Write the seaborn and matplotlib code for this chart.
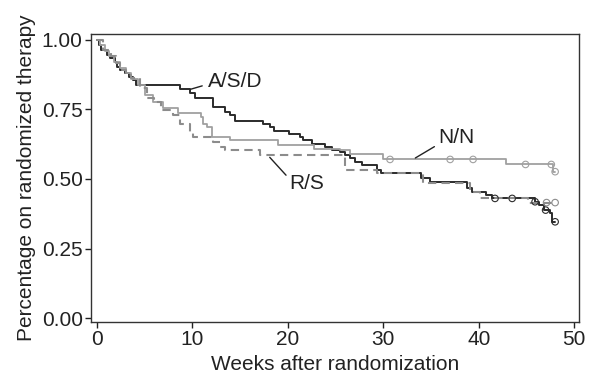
import numpy as np
import pandas as pd
import matplotlib
matplotlib.use("Agg")
import matplotlib.pyplot as plt
import seaborn as sns

# Kaplan-Meier step curves (weeks, proportion)
asd_weeks = [0, 0.2, 0.45, 1.0, 1.35, 1.85, 2.1, 2.4, 2.9, 3.4, 3.8, 4.1, 8.7, 9.7,
             10.3, 12.2, 13.4, 13.9, 14.5, 17.4, 18.1, 18.5, 20.1, 21.3, 21.6, 22.5,
             23.9, 24.6, 25.5, 26.0, 26.5, 27.0, 27.8, 29.3, 29.8, 33.9, 34.9, 38.8,
             39.3, 40.8, 41.4, 45.9, 46.3, 46.8, 47.5, 47.7, 48.0]
asd_surv = [1.0, 0.981, 0.963, 0.945, 0.933, 0.921, 0.903, 0.891, 0.879, 0.867, 0.855,
            0.838, 0.822, 0.81, 0.79, 0.76, 0.741, 0.729, 0.709, 0.699, 0.687, 0.673,
            0.663, 0.651, 0.639, 0.627, 0.615, 0.603, 0.597, 0.585, 0.574, 0.561, 0.55,
            0.532, 0.52, 0.502, 0.49, 0.466, 0.454, 0.442, 0.43, 0.418, 0.406, 0.388,
            0.376, 0.346, 0.346]
asd_cens = [41.7, 43.5, 45.9, 47.0, 48.0]

nn_weeks = [0, 0.3, 0.8, 1.3, 1.8, 2.4, 3.0, 3.6, 4.3, 5.0, 5.9, 6.9, 8.5, 10.9, 11.1,
            11.5, 12.0, 13.9, 19.0, 22.7, 25.5, 26.5, 30.0, 42.9, 47.8, 48.0]
nn_surv = [1.0, 0.98, 0.96, 0.94, 0.92, 0.9, 0.88, 0.86, 0.837, 0.80, 0.777, 0.753,
           0.735, 0.723, 0.699, 0.687, 0.652, 0.638, 0.621, 0.609, 0.603, 0.588, 0.570,
           0.552, 0.526, 0.526]
nn_cens = [30.7, 37.0, 39.4, 44.9, 47.6, 48.0]

rs_weeks = [0, 0.6, 1.5, 2.0, 2.4, 3.0, 3.6, 4.5, 5.2, 6.0, 6.7, 8.0, 8.7, 9.7, 10.1,
            12.2, 12.9, 13.4, 17.1, 26.0, 29.3, 34.2, 39.1, 40.1, 45.2, 48.0]
rs_surv = [1.0, 0.963, 0.94, 0.915, 0.891, 0.875, 0.861, 0.825, 0.789, 0.777, 0.747,
           0.729, 0.699, 0.669, 0.651, 0.634, 0.615, 0.603, 0.585, 0.532, 0.52, 0.484,
           0.454, 0.43, 0.415, 0.415]
rs_cens = [47.1, 48.0]

groups = ["A/S/D", "N/N", "R/S"]
colors = {"A/S/D": "#2b2b2b", "N/N": "#a0a0a0", "R/S": "#8c8c8c"}
styles = {"A/S/D": "-", "N/N": "-", "R/S": (0, (4, 2.5))}
widths = {"A/S/D": 1.4, "N/N": 1.3, "R/S": 1.5}

# label text position and leader-line end (weeks, proportion)
label_xy = {"A/S/D": (14.5, 0.851), "N/N": (37.7, 0.650), "R/S": (22.0, 0.485)}
leader_from = {"A/S/D": (9.5, 0.819), "N/N": (33.1, 0.570), "R/S": (17.9, 0.585)}
leader_to = {"A/S/D": (11.3, 0.837), "N/N": (35.6, 0.621), "R/S": (20.0, 0.506)}

curves = {
    "A/S/D": (asd_weeks, asd_surv, asd_cens),
    "N/N": (nn_weeks, nn_surv, nn_cens),
    "R/S": (rs_weeks, rs_surv, rs_cens),
}

sns.set_style("ticks")
plt.rcParams["font.family"] = ["Liberation Sans", "DejaVu Sans"]

fig = plt.figure(figsize=(5.91, 3.79), dpi=100)
ax = fig.add_axes([0.154, 0.150, 0.826, 0.760])

for g in groups:
    wk, sv, cs = curves[g]
    df = pd.DataFrame({"week": wk, "surv": sv})
    sns.lineplot(data=df, x="week", y="surv", drawstyle="steps-post", estimator=None,
                 sort=False, color=colors[g], linestyle=styles[g], lw=widths[g], ax=ax)
    # censoring marks sit on the step curve
    idx = np.searchsorted(np.array(wk), np.array(cs), side="right") - 1
    cy = np.array(sv)[idx]
    ax.scatter(cs, cy, s=22, facecolors="none", edgecolors=colors[g], linewidths=0.8,
               zorder=3)

for g in groups:
    ax.annotate("", xy=leader_from[g], xytext=leader_to[g],
                arrowprops=dict(arrowstyle="-", color="#222222", lw=1.0))
    ax.text(*label_xy[g], g, ha="center", va="center", fontsize=15, color="#222222")

ax.set_xlim(-0.63, 50.52)
ax.set_ylim(-0.0144, 1.0201)
ax.set_xticks([0, 10, 20, 30, 40, 50])
ax.set_yticks([0, 0.25, 0.5, 0.75, 1.0])
ax.set_yticklabels(["0.00", "0.25", "0.50", "0.75", "1.00"])
ax.tick_params(labelsize=15, colors="#222222", length=4, width=1, pad=2)
for s in ax.spines.values():
    s.set_color("#333333")
    s.set_linewidth(1.0)
ax.set_xlabel("Weeks after randomization", fontsize=15, color="#222222", labelpad=4)
ax.set_ylabel("Percentage on randomized therapy", fontsize=15, color="#222222",
              labelpad=4)

fig.savefig("out.png", dpi=100)
